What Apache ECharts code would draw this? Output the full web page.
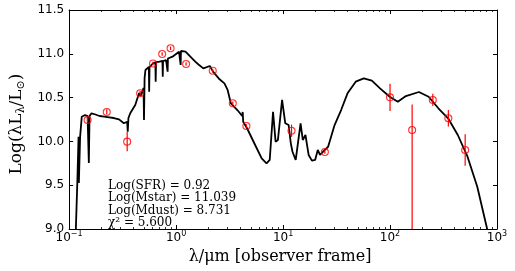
<!DOCTYPE html>
<html><head><meta charset="utf-8">
<script src="https://cdn.jsdelivr.net/npm/echarts@6/dist/echarts.min.js"></script>
<style>html,body{margin:0;padding:0;background:#fff}#c{width:515px;height:271px}</style>
</head><body><div id="c"></div>
<script>
// Model SED (wavelength in micron, log luminosity)
const modelLambda = [0.1146,0.1195,0.1225,0.1233,0.1267,0.1313,0.1407,0.1488,0.1529,0.1552,
  0.1619,0.176,0.1925,0.2125,0.2375,0.262,0.2927,0.325,0.3489,0.3533,
  0.3585,0.3738,0.4151,0.4512,0.4657,0.4961,0.5012,0.5076,0.5171,0.5566,
  0.5601,0.5647,0.6087,0.6403,0.6442,0.6497,0.7005,0.7457,0.7505,0.7552,
  0.806,0.8318,0.8335,0.8387,0.9255,1.065,1.103,1.110,1.141,1.225,
  1.360,1.511,1.619,1.797,2.068,2.215,2.549,2.830,3.032,3.250,
  3.738,4.151,4.195,4.239,4.608,5.483,6.310,7.005,7.505,8.06,
  8.511,8.95,9.793,10.49,11.27,11.82,12.25,13.13,14.58,15.29,
  16.19,17.34,18.62,19.95,21.11,22.15,24.6,26.37,30.32,34.89,
  40.06,47.76,56.83,67.6,80.6,99.4,118.2,140.7,186.2,229.6,
  283.0,348.9,430.1,530.3,654,806,864];
const modelLogL = [8.85,9.559,10.054,9.525,10.054,10.282,10.301,10.29,9.753,10.29,
  10.321,10.307,10.29,10.284,10.275,10.267,10.252,10.207,10.225,10.111,
  10.267,10.324,10.416,10.553,10.518,10.61,10.244,10.724,10.815,10.849,
  10.567,10.849,10.892,10.901,10.682,10.906,10.91,10.918,10.739,10.918,
  10.929,10.941,10.796,10.946,10.967,11.024,10.872,11.032,11.043,11.024,
  10.967,10.91,10.878,10.834,10.861,10.796,10.709,10.663,10.587,10.435,
  10.358,10.29,10.336,10.225,10.15,9.959,9.807,9.75,9.788,10.339,
  9.997,10.016,10.473,10.207,10.187,9.978,9.882,9.788,10.207,10.016,
  10.073,9.845,9.78,9.788,9.902,9.845,9.902,9.939,10.187,10.358,
  10.549,10.682,10.72,10.693,10.606,10.51,10.453,10.518,10.564,10.51,
  10.378,10.264,10.073,9.825,9.483,9.008,8.817];

// Observed photometry
const obsLambda = [0.1488,0.2248,0.3489,0.461,0.6087,0.741,0.888,1.24,2.201,3.388,4.542,12.0,24.6,100,160.9,251.2,351,504];
const obsLogL   = [10.244,10.336,9.997,10.549,10.89,10.998,11.063,10.884,10.807,10.435,10.176,10.122,9.879,10.503,10.13,10.473,10.264,9.902];
const obsErrLow = [0.03,0.03,0.11,0.03,0.02,0.02,0.02,0.02,0.02,0.02,0.02,0.07,0.02,0.156,1.2,0.07,0.095,0.18];
const obsErrHigh= [0.03,0.03,0.11,0.03,0.02,0.02,0.02,0.02,0.02,0.02,0.02,0.07,0.02,0.156,0.29,0.07,0.095,0.18];

const xMin = 0.1, xMax = 1000;
const yMin = 9.0, yMax = 11.5, yStep = 0.5;
const annotation = ['Log(SFR) = 0.92','Log(Mstar) = 11.039','Log(Mdust) = 8.731','χ² = 5.600'];

const chart = echarts.init(document.getElementById('c'), null, {renderer:'canvas'});
const serif = 'DejaVu Serif';
const sans = 'DejaVu Sans';

function logAxis(position, labels){
  return {
    type:'log', logBase:10, min:xMin, max:xMax, position,
    axisLine:{show:true, onZero:false, lineStyle:{color:'#000', width:1}},
    axisTick:{show:true, inside:true, length:4, lineStyle:{color:'#000', width:1}},
    minorTick:{show:true, splitNumber:9, length:2, lineStyle:{color:'#000', width:0.8}},
    axisLabel: labels ? {
      show:true, margin:1,
      formatter: v => {
        const e = Math.round(Math.log10(v));
        return '{b|10}{s|' + (e < 0 ? '\u2212' + (-e) : e) + '}';
      },
      rich:{
        b:{fontFamily:sans, fontSize:12, color:'#000', lineHeight:16},
        s:{fontFamily:sans, fontSize:8, color:'#000', lineHeight:6, verticalAlign:'top'}
      }
    } : {show:false},
    splitLine:{show:false}, minorSplitLine:{show:false}
  };
}

const xAxes = [
  Object.assign(logAxis('bottom', true), {
    name:'λ/μm [observer frame]', nameLocation:'middle', nameGap:17,
    nameTextStyle:{fontFamily:serif, fontSize:16, color:'#000', verticalAlign:'top', padding:[0,6,0,0]}
  }),
  logAxis('top', false)
];

const yAxes = [
  {type:'value', position:'left', min:yMin, max:yMax, interval:yStep,
   axisLine:{show:true, onZero:false, lineStyle:{color:'#000'}},
   axisTick:{inside:true, length:4, lineStyle:{color:'#000', width:1}},
   axisLabel:{margin:5, color:'#000', fontFamily:sans, fontSize:12, formatter:v=>v.toFixed(1)},
   splitLine:{show:false},
   name:'{n|Log(λL}{s|λ}{n|/L}{s|⊙}{n|)}', nameLocation:'middle', nameGap:39, nameRotate:90,
   nameTextStyle:{padding:[0,9,0,0], rich:{
     n:{fontFamily:serif, fontSize:17, color:'#000', lineHeight:20},
     s:{fontFamily:serif, fontSize:11, color:'#000', lineHeight:9, verticalAlign:'bottom'}
   }}
  },
  {type:'value', position:'right', min:yMin, max:yMax, interval:yStep,
   axisLine:{show:true, onZero:false, lineStyle:{color:'#000'}},
   axisTick:{inside:true, length:4, lineStyle:{color:'#000', width:1}},
   axisLabel:{show:false}, splitLine:{show:false}}
];

const modelData = modelLambda.map((l,i)=>[l, modelLogL[i]]);
const obsData = obsLambda.map((l,i)=>[l, obsLogL[i]]);
const errData = obsLambda.map((l,i)=>[l, obsLogL[i]-obsErrLow[i], obsLogL[i]+obsErrHigh[i]]);

chart.setOption({
  animation:false,
  backgroundColor:'#fff',
  grid:{left:57, right:18, top:10, bottom:42},
  xAxis:xAxes,
  yAxis:yAxes,
  series:[
    {type:'line', xAxisIndex:0, yAxisIndex:0, data:modelData, showSymbol:false, symbol:'none',
     lineStyle:{color:'#000', width:1.8}, clip:true, z:2, silent:true},
    {type:'custom', xAxisIndex:0, yAxisIndex:0, data:errData, encode:{x:0, y:[1,2]}, z:3, silent:true,
     renderItem:(params, api)=>{
       const x = api.value(0);
       const p1 = api.coord([x, api.value(2)]);
       const p2 = api.coord([x, api.value(1)]);
       const cs = params.coordSys;
       const top = Math.max(p1[1], cs.y), bot = Math.min(p2[1], cs.y + cs.height);
       return {type:'line', shape:{x1:p1[0], y1:top, x2:p1[0], y2:bot},
               style:{stroke:'#ff0000', lineWidth:1.2}};
     }},
    {type:'scatter', xAxisIndex:0, yAxisIndex:0, data:obsData, symbol:'circle', symbolSize:7, z:4, silent:true,
     itemStyle:{color:'rgba(255,255,255,0)', borderColor:'#ff0000', borderWidth:1.1}}
  ],
  graphic: annotation.map((t,i)=>({
    type:'text', left:108, top:180 + i*12.3,
    style:{text:t, fontFamily:serif, fontSize:12, fill:'#000'}
  }))
});
</script></body></html>
